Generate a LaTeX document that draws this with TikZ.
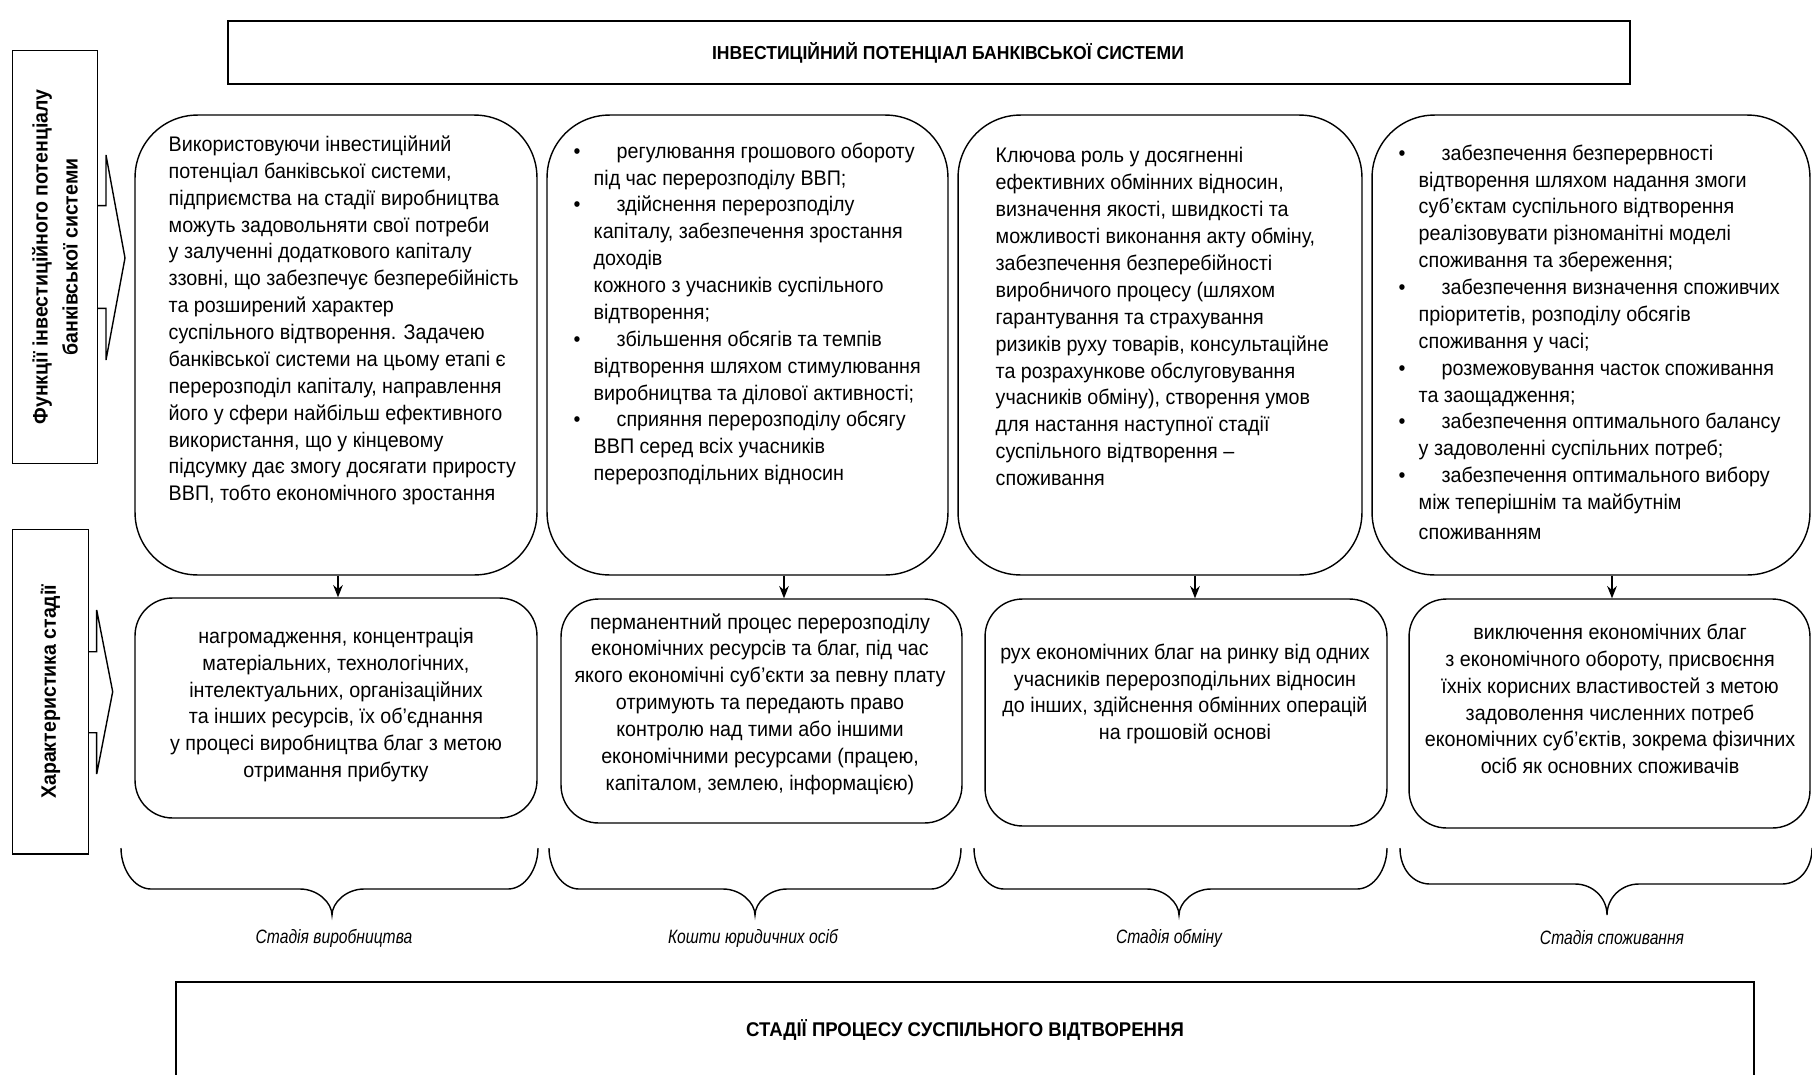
\documentclass[tikz,border=0pt]{standalone}
\usepackage{fontspec}
\setmainfont{Liberation Sans}[FakeStretch=0.935]
\usetikzlibrary{arrows.meta}
\newcommand{\itm}{\llap{\makebox[0.4cm][l]{•}}\hspace*{0.46cm}}

\begin{document}
\begin{tikzpicture}[x=0.02cm,y=-0.02cm,line width=0.8pt,
    >={Stealth[length=7pt,width=5.5pt]},
    funbox/.style={draw,rounded corners=1.25cm,minimum height=9.2cm,inner sep=0pt},
    stagebox/.style={draw,rounded corners=0.75cm,inner sep=0pt},
    sidebox/.style={draw,inner sep=0pt,align=center},
    boxtext/.style={font=\fontsize{12}{15.3}\selectfont,inner sep=0pt},
    stagelbl/.style={font=\fontsize{11}{13}\selectfont\itshape
        \addfontfeature{FakeStretch=0.81}}]
    \useasboundingbox (0,0) rectangle (1812,1075);
    \clip (0,0) rectangle (1812,1075);

    % titles
    \node[sidebox,minimum width=28.04cm,minimum height=1.26cm,
        font=\fontsize{10.7}{12}\selectfont\bfseries] (pot) at (929,52.5)
        {\hspace*{0.76cm}ІНВЕСТИЦІЙНИЙ ПОТЕНЦІАЛ БАНКІВСЬКОЇ СИСТЕМИ};
    \node[sidebox,minimum width=31.56cm,minimum height=1.92cm,
        font=\fontsize{11.3}{12}\selectfont\bfseries] (proc) at (965,1030)
        {СТАДІЇ ПРОЦЕСУ СУСПІЛЬНОГО ВІДТВОРЕННЯ};

    % side labels with pointers
    \node[sidebox,rotate=90,minimum width=8.25cm,minimum height=1.69cm,
        font=\fontsize{11.9}{17}\selectfont\bfseries] (funlbl) at (55,257)
        {Функції інвестиційного потенціалу\\банківської системи};
    \draw (97,205.7) -- (106,205.7) -- (106,155) -- (125,258)
        -- (106,360) -- (106,308.3) -- (97,308.3);
    \node[sidebox,rotate=90,minimum width=6.49cm,minimum height=1.51cm,
        font=\fontsize{11.9}{17}\selectfont\bfseries] (charlbl) at (50.5,691.7)
        {Характеристика стадії};
    \draw (88.3,651.7) -- (96.7,651.7) -- (96.7,610) -- (112.7,691.7)
        -- (96.7,774) -- (96.7,732.7) -- (88.3,732.7);

    % functions of the banking system
    \node[funbox,minimum width=8.04cm] (fun1) at (336,345) {};
    \node[funbox,minimum width=8.02cm] (fun2) at (747.5,345) {};
    \node[funbox,minimum width=8.08cm] (fun3) at (1160,345) {};
    \node[funbox,minimum width=8.76cm] (fun4) at (1591,345) {};

    \node[boxtext,align=left,anchor=north west] (fun1t) at (168,135)
        {Використовуючи інвестиційний\\
         потенціал банківської системи,\\
         підприємства на стадії виробництва\\
         можуть задовольняти свої потреби\\
         у залученні додаткового капіталу\\
         ззовні, що забезпечує безперебійність\\
         та розширений характер\\
         суспільного відтворення. Задачею\\
         банківської системи на цьому етапі є\\
         перерозподіл капіталу, направлення\\
         його у сфери найбільш ефективного\\
         використання, що у кінцевому\\
         підсумку дає змогу досягати приросту\\
         ВВП, тобто економічного зростання};
    \node[boxtext,align=left,anchor=north west] (fun2t) at (593,142)
        {\itm регулювання грошового обороту\\
         під час перерозподілу ВВП;\\
         \itm здійснення перерозподілу\\
         капіталу, забезпечення зростання\\
         доходів\\
         кожного з учасників суспільного\\
         відтворення;\\
         \itm збільшення обсягів та темпів\\
         відтворення шляхом стимулювання\\
         виробництва та ділової активності;\\
         \itm сприяння перерозподілу обсягу\\
         ВВП серед всіх учасників\\
         перерозподільних відносин};
    \node[boxtext,align=left,anchor=north west] (fun3t) at (995,147)
        {Ключова роль у досягненні\\
         ефективних обмінних відносин,\\
         визначення якості, швидкості та\\
         можливості виконання акту обміну,\\
         забезпечення безперебійності\\
         виробничого процесу (шляхом\\
         гарантування та страхування\\
         ризиків руху товарів, консультаційне\\
         та розрахункове обслуговування\\
         учасників обміну), створення умов\\
         для настання наступної стадії\\
         суспільного відтворення –\\
         споживання};
    \node[boxtext,align=left,anchor=north west] (fun4t) at (1418,144)
        {\itm забезпечення безперервності\\
         відтворення шляхом надання змоги\\
         суб’єктам суспільного відтворення\\
         реалізовувати різноманітні моделі\\
         споживання та збереження;\\
         \itm забезпечення визначення споживчих\\
         пріоритетів, розподілу обсягів\\
         споживання у часі;\\
         \itm розмежовування часток споживання\\
         та заощадження;\\
         \itm забезпечення оптимального балансу\\
         у задоволенні суспільних потреб;\\
         \itm забезпечення оптимального вибору\\
         між теперішнім та майбутнім\\[1.5pt]
         споживанням};

    % characteristics of the stages
    \node[stagebox,minimum width=8.04cm,minimum height=4.4cm] (st1) at (336,708) {};
    \node[stagebox,minimum width=8.02cm,minimum height=4.48cm] (st2) at (761.5,711) {};
    \node[stagebox,minimum width=8.04cm,minimum height=4.54cm] (st3) at (1186,712.5) {};
    \node[stagebox,minimum width=8.02cm,minimum height=4.58cm] (st4) at (1609.5,713.5) {};

    \node[boxtext,align=center] (st1t) at (336,705)
        {нагромадження, концентрація\\
         матеріальних, технологічних,\\
         інтелектуальних, організаційних\\
         та інших ресурсів, їх об’єднання\\
         у процесі виробництва благ з метою\\
         отримання прибутку};
    \node[boxtext,align=center] (st2t) at (760,704)
        {перманентний процес перерозподілу\\
         економічних ресурсів та благ, під час\\
         якого економічні суб'єкти за певну плату\\
         отримують та передають право\\
         контролю над тими або іншими\\
         економічними ресурсами (працею,\\
         капіталом, землею, інформацією)};
    \node[boxtext,align=center] (st3t) at (1185,694)
        {рух економічних благ на ринку від одних\\
         учасників перерозподільних відносин\\
         до інших, здійснення обмінних операцій\\
         на грошовій основі};
    \node[boxtext,align=center] (st4t) at (1610,699)
        {виключення економічних благ\\
         з економічного обороту, присвоєння\\
         їхніх корисних властивостей з метою\\
         задоволення численних потреб\\
         економічних суб’єктів, зокрема фізичних\\
         осіб як основних споживачів};

    \foreach \i/\x in {1/338,2/784,3/1195,4/1612}{
        \coordinate (a\i) at (\x,0);
        \draw[->] (fun\i.south -| a\i) -- (st\i.north -| a\i);
    }

    % braces over the stage names
    \foreach \xl/\xr/\xt/\yf in {121/538/332/889,549/961/755/889,
        974/1387/1179/889,1400/1812/1607/884}{
        \draw (\xl,848) .. controls (\xl,869) and (\xl+13,\yf) .. (\xl+30,\yf)
            -- (\xt-32,\yf) .. controls (\xt-14,\yf) and (\xt,\yf+14) .. (\xt,915)
            .. controls (\xt,\yf+14) and (\xt+14,\yf) .. (\xt+32,\yf)
            -- (\xr-30,\yf) .. controls (\xr-13,\yf) and (\xr,869) .. (\xr,848);
    }

    \node[stagelbl] (lbl1) at (334,938) {Стадія виробництва};
    \node[stagelbl] (lbl2) at (753,938) {Кошти юридичних осіб};
    \node[stagelbl] (lbl3) at (1169,938) {Стадія обміну};
    \node[stagelbl] (lbl4) at (1612,938) {Стадія споживання};
\end{tikzpicture}
\end{document}
